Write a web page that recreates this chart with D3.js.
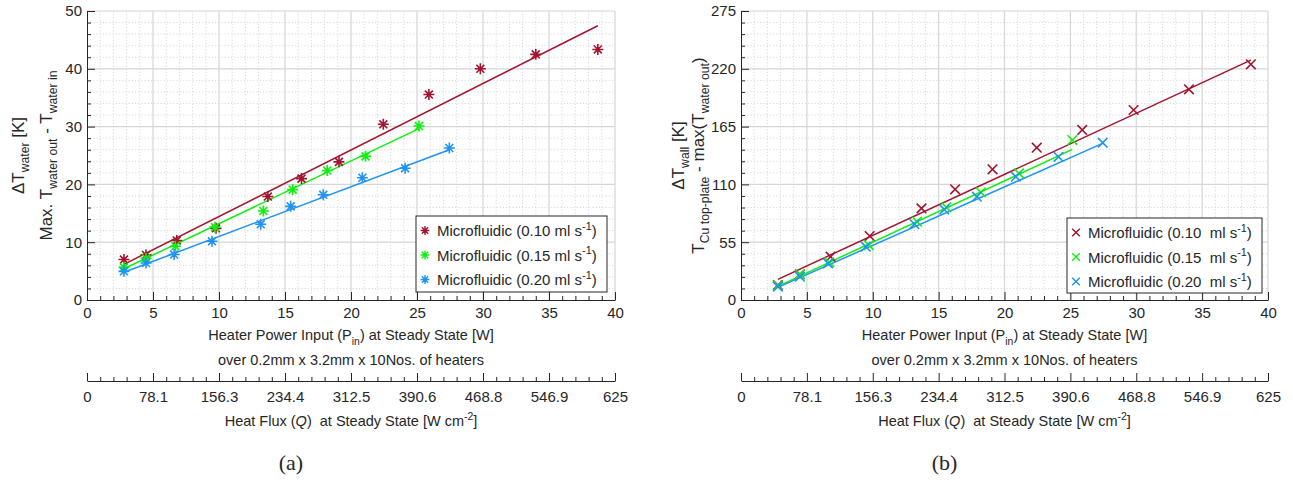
<!DOCTYPE html>
<html><head><meta charset="utf-8">
<script src="https://cdn.jsdelivr.net/npm/d3@7"></script>
<style>
body{margin:0;background:#fff;}
svg text{font-family:"Liberation Sans",Arial,Helvetica,sans-serif;fill:#262626;white-space:pre;}
</style></head><body>
<svg id="chart" width="1293" height="480"></svg>
<script>
// ---- data -------------------------------------------------------------
const flowRates = ["0.10", "0.15", "0.20"];
const seriesColors = ["#a2142f", "#0ef00e", "#1f93f5"];

// heater power input (W) for each flow rate
const powerLow  = [2.8, 4.47, 6.8, 9.77, 13.7, 16.25, 19.09, 22.45, 25.9, 29.8, 34.0, 38.7];
const powerMid  = [2.8, 4.47, 6.7, 9.7, 13.36, 15.58, 18.2, 21.1, 25.15];
const powerHigh = [2.8, 4.47, 6.6, 9.47, 13.16, 15.43, 17.9, 20.86, 24.1, 27.45];

// (a) water temperature rise, K
const dTwaterLow  = [7.0, 7.8, 10.3, 12.4, 17.9, 21.0, 23.9, 30.4, 35.55, 40.0, 42.5, 43.35];
const dTwaterMid  = [5.65, 7.2, 9.3, 12.6, 15.4, 19.1, 22.4, 24.85, 30.1];
const dTwaterHigh = [4.96, 6.4, 7.86, 10.16, 13.1, 16.2, 18.2, 21.15, 22.8, 26.3];

// (b) wall temperature rise, K
const dTwallLow  = [14.2, 24.5, 41.2, 60.9, 87.2, 105.3, 124.4, 144.9, 161.8, 180.8, 200.5, 224.3];
const dTwallMid  = [13.6, 24.4, 35.9, 52.3, 74.5, 88.2, 102.5, 120.5, 152.2];
const dTwallHigh = [12.7, 22.2, 34.9, 50.7, 72.3, 86.2, 98.3, 117.3, 136.3, 149.7];

// linear fits [slope, intercept] per flow rate
const fitWater = [[1.15, 2.95], [1.085, 2.36], [0.86, 2.39]];
const fitWall  = [[5.81, 3.4], [5.83, -3.3], [5.56, -3.6]];

// axis ticks
const powerTicks = [0, 5, 10, 15, 20, 25, 30, 35, 40];
const fluxTickLabels = ["0", "78.1", "156.3", "234.4", "312.5", "390.6", "468.8", "546.9", "625"];
const waterTicks = [0, 10, 20, 30, 40, 50];
const wallTicks = [0, 55, 110, 165, 220, 275];

// ---- drawing ----------------------------------------------------------
const svg = d3.select("#chart");
const ink = "#262626";

function richText(sel, parts, size) {
  // parts: [text, mode]; mode "" | "sub" | "sup" | "it"
  let shift = 0;
  sel.attr("font-size", size);
  parts.forEach(([t, mode]) => {
    const target = mode === "sub" ? size * 0.32 : mode === "sup" ? -size * 0.42 : 0;
    const ts = sel.append("tspan").text(t).attr("dy", target - shift);
    if (mode === "sub" || mode === "sup") ts.attr("font-size", size * 0.72);
    if (mode === "it") ts.attr("font-style", "italic");
    shift = target;
  });
}

function asterisk(g, r) {
  const d = r * 0.72;
  g.append("path").attr("d",
    `M${-r},0H${r}M0,${-r}V${r}M${-d},${-d}L${d},${d}M${-d},${d}L${d},${-d}`);
}
function cross(g, r) {
  g.append("path").attr("d", `M${-r},${-r}L${r},${r}M${-r},${r}L${r},${-r}`);
}

function drawPanel(opt) {
  const x = d3.scaleLinear().domain([0, 40]).range([opt.left, opt.right]);
  const y = d3.scaleLinear().domain([0, opt.yMax]).range([opt.bottom, opt.top]);
  const g = svg.append("g");

  // grid
  const xMinor = d3.range(1, 40).filter(v => v % 5 !== 0);
  const yMinor = d3.range(opt.yMinor, opt.yMax, opt.yMinor).filter(v => Math.abs(v / opt.yStep - Math.round(v / opt.yStep)) > 1e-6);
  const grid = g.append("g");
  grid.selectAll(".gx").data(xMinor).join("line")
    .attr("x1", d => x(d)).attr("x2", d => x(d)).attr("y1", opt.top).attr("y2", opt.bottom)
    .attr("stroke", "#d9d9d9").attr("stroke-dasharray", "1.2,2");
  grid.selectAll(".gy").data(yMinor).join("line")
    .attr("y1", d => y(d)).attr("y2", d => y(d)).attr("x1", opt.left).attr("x2", opt.right)
    .attr("stroke", "#d9d9d9").attr("stroke-dasharray", "1.2,2");
  grid.selectAll(".Gx").data(powerTicks.slice(1)).join("line")
    .attr("x1", d => x(d)).attr("x2", d => x(d)).attr("y1", opt.top).attr("y2", opt.bottom)
    .attr("stroke", "#d6d6d6").attr("stroke-width", 1.2);
  grid.selectAll(".Gy").data(opt.yTicks.slice(1)).join("line")
    .attr("y1", d => y(d)).attr("y2", d => y(d)).attr("x1", opt.left).attr("x2", opt.right)
    .attr("stroke", "#d6d6d6").attr("stroke-width", 1.2);

  // fits and markers
  opt.series.forEach((s, i) => {
    const [m, b] = s.fit;
    const xs = d3.extent(s.x);
    g.append("line")
      .attr("x1", x(xs[0])).attr("y1", y(m * xs[0] + b))
      .attr("x2", x(xs[1])).attr("y2", y(m * xs[1] + b))
      .attr("stroke", seriesColors[i]).attr("stroke-width", 1.5);
  });
  opt.series.forEach((s, i) => {
    const pts = g.append("g").attr("stroke", seriesColors[i]).attr("stroke-width", 1.6).attr("fill", "none");
    s.x.forEach((xv, k) => {
      const mk = pts.append("g").attr("transform", `translate(${x(xv)},${y(s.y[k])})`);
      opt.marker(mk, opt.markerSize);
    });
  });

  // axes
  const fmt = d3.format("d");
  const ax = g.append("g").attr("transform", `translate(0,${opt.bottom})`)
    .call(d3.axisBottom(x).tickValues(powerTicks).tickSize(-8).tickSizeOuter(0).tickPadding(7).tickFormat(fmt));
  g.append("g").attr("transform", `translate(0,${opt.bottom})`)
    .call(d3.axisBottom(x).tickValues(xMinor).tickSize(-4).tickSizeOuter(0).tickFormat(""))
    .select(".domain").remove();
  const ay = g.append("g").attr("transform", `translate(${opt.left},0)`)
    .call(d3.axisLeft(y).tickValues(opt.yTicks).tickSize(-8).tickSizeOuter(0).tickPadding(5).tickFormat(fmt));
  g.append("g").attr("transform", `translate(${opt.left},0)`)
    .call(d3.axisLeft(y).tickValues(yMinor).tickSize(-4).tickSizeOuter(0).tickFormat(""))
    .select(".domain").remove();

  // secondary heat-flux axis
  const q = d3.scaleLinear().domain([0, 625]).range([opt.left, opt.right]);
  const qMajor = d3.range(0, 9).map(k => k * 625 / 8);
  const qMinor = d3.range(0, 41).map(k => k * 625 / 40).filter((v, k) => k % 5 !== 0);
  const aq = g.append("g").attr("transform", `translate(0,${opt.fluxY})`)
    .call(d3.axisBottom(q).tickValues(qMajor).tickSize(-8).tickSizeOuter(0).tickPadding(10)
      .tickFormat((d, k) => fluxTickLabels[k]));
  g.append("g").attr("transform", `translate(0,${opt.fluxY})`)
    .call(d3.axisBottom(q).tickValues(qMinor).tickSize(-4).tickSizeOuter(0).tickFormat(""))
    .select(".domain").remove();

  g.selectAll(".tick line, .domain").attr("stroke", ink).attr("stroke-width", 1);
  [ax, ay, aq].forEach(a => a.attr("font-size", 15).attr("font-family", null));
  g.selectAll(".tick text").attr("fill", ink);

  // axis titles
  const cx = (opt.left + opt.right) / 2;
  richText(g.append("text").attr("x", cx).attr("y", 340).attr("text-anchor", "middle"),
    [["Heater Power Input (P", ""], ["in", "sub"], [") at Steady State [W]", ""]], 14.5);
  richText(g.append("text").attr("x", cx).attr("y", 365).attr("text-anchor", "middle"),
    [["over 0.2mm x 3.2mm x 10Nos. of heaters", ""]], 14.5);
  richText(g.append("text").attr("x", cx).attr("y", 426).attr("text-anchor", "middle"),
    [["Heat Flux (", ""], ["Q", "it"], [")  at Steady State [W cm", ""], ["-2", "sup"], ["]", ""]], 14.5);

  const cy = (opt.top + opt.bottom) / 2;
  opt.yLabels.forEach((parts, k) => {
    richText(g.append("text").attr("text-anchor", "middle")
      .attr("transform", `translate(${opt.yLabelX[k]},${cy}) rotate(-90)`), parts, 17);
  });

  // legend
  const L = opt.legend;
  g.append("rect").attr("x", L.x).attr("y", L.y).attr("width", L.w).attr("height", L.h)
    .attr("fill", "#fff").attr("stroke", ink).attr("stroke-width", 1);
  flowRates.forEach((fr, i) => {
    const ey = L.y + 14.5 + i * 24.5;
    const mk = g.append("g").attr("transform", `translate(${L.x + 9},${ey})`)
      .attr("stroke", seriesColors[i]).attr("stroke-width", 1.4).attr("fill", "none");
    opt.marker(mk, opt.markerSize * 0.8);
    richText(g.append("text").attr("x", L.x + 21).attr("y", ey + 5.5),
      [["Microfluidic (" + fr + L.gap + "ml s", ""], ["-1", "sup"], [")", ""]], 15);
  });

  // panel tag
  g.append("text").attr("x", cx - 60).attr("y", 470).attr("text-anchor", "middle")
    .attr("font-size", 22).style("font-family", "'Liberation Serif','DejaVu Serif',serif").attr("fill", "#111")
    .text(opt.tag);
}

drawPanel({
  left: 87, right: 615, top: 11, bottom: 300, fluxY: 381,
  yMax: 50, yStep: 10, yMinor: 2, yTicks: waterTicks,
  marker: asterisk, markerSize: 5.5,
  series: [
    { x: powerLow, y: dTwaterLow, fit: fitWater[0] },
    { x: powerMid, y: dTwaterMid, fit: fitWater[1] },
    { x: powerHigh, y: dTwaterHigh, fit: fitWater[2] }
  ],
  yLabels: [
    [["\u0394T", ""], ["water", "sub"], [" [K]", ""]],
    [["Max. T", ""], ["water out", "sub"], [" - T", ""], ["water in", "sub"]]
  ],
  yLabelX: [24, 52],
  legend: { x: 416, y: 216, w: 191, h: 76, gap: " " },
  tag: "(a)"
});

drawPanel({
  left: 741, right: 1268, top: 11, bottom: 300, fluxY: 381,
  yMax: 275, yStep: 55, yMinor: 11, yTicks: wallTicks,
  marker: cross, markerSize: 4.8,
  series: [
    { x: powerLow, y: dTwallLow, fit: fitWall[0] },
    { x: powerMid, y: dTwallMid, fit: fitWall[1] },
    { x: powerHigh, y: dTwallHigh, fit: fitWall[2] }
  ],
  yLabels: [
    [["\u0394T", ""], ["wall", "sub"], [" [K]", ""]],
    [["T", ""], ["Cu top-plate", "sub"], [" - max(T", ""], ["water out", "sub"], [")", ""]]
  ],
  yLabelX: [684, 704],
  legend: { x: 1067, y: 218, w: 195, h: 75, gap: "  " },
  tag: "(b)"
});
</script>
</body></html>
